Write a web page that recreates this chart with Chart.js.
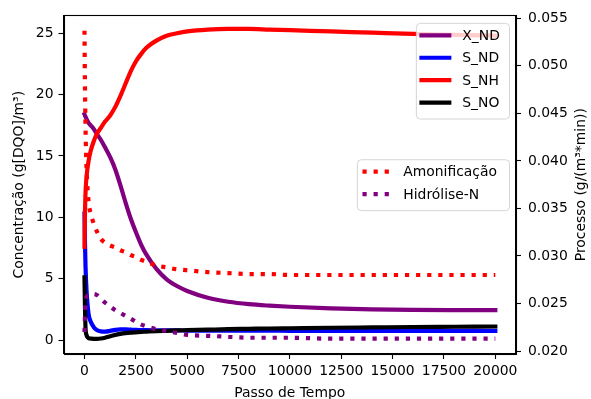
<!DOCTYPE html>
<html><head><meta charset="utf-8">
<script src="https://cdn.jsdelivr.net/npm/chart.js@4.4.0/dist/chart.umd.min.js"></script>
<style>html,body{margin:0;padding:0;background:#fff;overflow:hidden}#wrap{width:591px;height:399px}</style>
</head><body><div id="wrap"><canvas id="c" width="591" height="399"></canvas></div>
<script>
// ---- data ----
const passo = [0, 20, 50, 100, 200, 300, 450, 600, 800, 1000, 1250, 1500, 1750, 2000, 2250, 2500, 2750, 3000, 3500, 4000, 4500, 5000, 6000, 7000, 8000, 9000, 10000, 12000, 14000, 16000, 18000, 20000];
const xND = [18.4,18.3,18.2,18.0,17.7,17.5,17.2,16.8,16.3,15.7,14.9,13.9,12.6,11.2,9.9,8.8,7.8,7.0,5.8,4.95,4.4,4.0,3.45,3.12,2.92,2.8,2.71,2.58,2.5,2.46,2.44,2.43];
const sND = [10.3,8.3,6.0,4.0,2.1,1.5,1.05,0.82,0.7,0.68,0.74,0.83,0.87,0.86,0.84,0.82,0.81,0.8,0.79,0.78,0.78,0.77,0.77,0.76,0.76,0.76,0.75,0.75,0.75,0.75,0.75,0.75];
const sNH = [7.6,10.0,12.0,13.3,14.6,15.4,16.2,16.8,17.3,17.8,18.3,19.0,19.9,20.9,21.9,22.7,23.3,23.8,24.4,24.8,25.0,25.15,25.3,25.35,25.35,25.3,25.25,25.15,25.05,24.95,24.87,24.8];
const sNO = [5.1,3.0,1.0,0.4,0.15,0.12,0.1,0.1,0.12,0.18,0.3,0.42,0.5,0.56,0.6,0.63,0.66,0.68,0.72,0.75,0.78,0.8,0.84,0.88,0.91,0.94,0.96,1.0,1.03,1.06,1.08,1.1];
const amonificacao = [0.0537,0.0485,0.0435,0.0392,0.0357,0.0345,0.0334,0.0326,0.0318,0.0314,0.0311,0.0309,0.0306,0.0304,0.0301,0.0299,0.0296,0.0294,0.0290,0.0288,0.0286,0.0285,0.0283,0.0282,0.0281,0.0281,0.0280,0.0280,0.0280,0.0280,0.0280,0.0280];
const hidroliseN = [0.0220,0.0235,0.0250,0.0257,0.0259,0.0260,0.0260,0.0259,0.0255,0.0251,0.0247,0.0243,0.0240,0.0237,0.0234,0.0231,0.0228,0.0226,0.0223,0.0221,0.0219,0.0217,0.0216,0.0215,0.0214,0.0214,0.0214,0.0213,0.0213,0.0213,0.0213,0.0213];
const xTicks = [0, 2500, 5000, 7500, 10000, 12500, 15000, 17500, 20000];
const yTicks = [0, 5, 10, 15, 20, 25];
const y2Ticks = [0.020, 0.025, 0.030, 0.035, 0.040, 0.045, 0.050, 0.055];
const labelsConc = ['X_ND', 'S_ND', 'S_NH', 'S_NO'];
const labelsProc = ['Amonificação', 'Hidrólise-N'];
const xTitle = 'Passo de Tempo';
const yTitle = 'Concentração (g[DQO]/m³)';
const y2Title = 'Processo (g/(m³*min))';

// ---- styling ----
const FONT = '"DejaVu Sans", sans-serif';
const FS = 13.9;
const LW = 4.2;
const pts = arr => passo.map((x, i) => ({x: x, y: arr[i]}));
const solid = (label, data, color, order) => ({label, data: pts(data), borderColor: color, backgroundColor: color, borderWidth: LW, pointRadius: 0, yAxisID: 'y', order, cubicInterpolationMode: 'monotone', borderCapStyle: 'square', fill: false, isSolid: true});
const dotted = (label, data, color, order) => ({label, data: pts(data), borderColor: color, backgroundColor: color, borderWidth: LW, pointRadius: 0, yAxisID: 'y2', order, cubicInterpolationMode: 'monotone', borderCapStyle: 'butt', borderDash: [LW, 6.9], fill: false, isSolid: false});

const datasets = [
  solid(labelsConc[0], xND, '#800080', 5),
  solid(labelsConc[1], sND, '#0000ff', 4),
  solid(labelsConc[2], sNH, '#ff0000', 3),
  solid(labelsConc[3], sNO, '#000000', 2),
  dotted(labelsProc[0], amonificacao, '#ff0000', 1),
  dotted(labelsProc[1], hidroliseN, '#800080', 0)
];

function setTicks(arr) { return function(scale) { scale.ticks = arr.map(v => ({value: v})); }; }

const framePlugin = {
  id: 'frame',
  afterDraw(chart) {
    const ctx = chart.ctx, a = chart.chartArea;
    ctx.save();
    ctx.strokeStyle = '#000'; ctx.lineWidth = 1.1;
    ctx.strokeRect(Math.round(a.left) + 0.5, Math.round(a.top) + 0.5, Math.round(a.right - a.left) - 1, Math.round(a.bottom - a.top));
    // right axis title (reads bottom to top)
    ctx.font = FS + 'px ' + FONT; ctx.fillStyle = '#000';
    ctx.textAlign = 'center'; ctx.textBaseline = 'middle';
    ctx.translate(581.5, (a.top + a.bottom) / 2);
    ctx.rotate(-Math.PI / 2);
    ctx.fillText(y2Title, 0, 0);
    ctx.restore();
    // legends
    const ds = chart.data.datasets;
    drawLegend(ctx, ds.filter(d => d.isSolid), a.right - 7, a.top + 7.5, null);
    drawLegend(ctx, ds.filter(d => !d.isSolid), a.right - 7, null, (a.top + a.bottom) / 2);
  }
};

function roundRect(ctx, x, y, w, h, r) {
  ctx.beginPath();
  ctx.moveTo(x + r, y); ctx.lineTo(x + w - r, y); ctx.quadraticCurveTo(x + w, y, x + w, y + r);
  ctx.lineTo(x + w, y + h - r); ctx.quadraticCurveTo(x + w, y + h, x + w - r, y + h);
  ctx.lineTo(x + r, y + h); ctx.quadraticCurveTo(x, y + h, x, y + h - r);
  ctx.lineTo(x, y + r); ctx.quadraticCurveTo(x, y, x + r, y); ctx.closePath();
}

function drawLegend(ctx, items, right, top, midY) {
  ctx.save();
  ctx.font = FS + 'px ' + FONT;
  const maxW = Math.max(...items.map(d => ctx.measureText(d.label).width));
  const pitch = 22.4, padTop = 12.5, padBot = 16;
  const h = padTop + pitch * (items.length - 1) + padBot;
  if (top === null) top = midY - h / 2;
  const textX = right - 7.3 - maxW * 1.05;
  const hEnd = textX - 13, hStart = hEnd - 27.8;
  const left = hStart - 5.6;
  roundRect(ctx, left + 0.5, top + 0.5, right - left, h, 4);
  ctx.fillStyle = 'rgba(255,255,255,0.8)'; ctx.fill();
  ctx.strokeStyle = 'rgba(204,204,204,0.8)'; ctx.lineWidth = 1; ctx.stroke();
  items.forEach((d, i) => {
    const y = top + padTop + i * pitch;
    ctx.beginPath();
    ctx.strokeStyle = d.borderColor; ctx.lineWidth = LW;
    if (d.isSolid) { ctx.setLineDash([]); ctx.lineCap = 'square'; }
    else { ctx.setLineDash(d.borderDash); ctx.lineCap = 'butt'; }
    ctx.moveTo(hStart, y); ctx.lineTo(hEnd, y); ctx.stroke();
    ctx.setLineDash([]);
    ctx.fillStyle = '#000'; ctx.textAlign = 'left'; ctx.textBaseline = 'middle';
    ctx.fillText(d.label, textX, y + 1);
  });
  ctx.restore();
}

const tickFont = {family: FONT, size: FS};
new Chart(document.getElementById('c'), {
  type: 'line',
  data: {datasets},
  plugins: [framePlugin],
  options: {
    responsive: false, animation: false, devicePixelRatio: 1,
    layout: {padding: {top: 14, left: 0, right: 0, bottom: 0}},
    plugins: {legend: {display: false}, tooltip: {enabled: false}, title: {display: false}},
    scales: {
      x: {
        type: 'linear', position: 'bottom', min: -1022, max: 21007,
        afterBuildTicks: setTicks(xTicks),
        afterFit(s) { s.height = 45; },
        grid: {drawOnChartArea: false, drawTicks: true, tickLength: 5, tickColor: '#000', tickWidth: 1.1},
        border: {display: true, color: '#000', width: 1.1},
        ticks: {color: '#000', font: tickFont, padding: 4, maxRotation: 0, autoSkip: false, callback: v => String(v)},
        title: {display: true, text: xTitle, color: '#000', font: {family: FONT, size: FS, lineHeight: 1}, padding: {top: 0, bottom: -1.5}}
      },
      y: {
        type: 'linear', position: 'left', min: -1.14, max: 26.46,
        afterBuildTicks: setTicks(yTicks),
        afterFit(s) { s.width = 63.5; },
        grid: {drawOnChartArea: false, drawTicks: true, tickLength: 5, tickColor: '#000', tickWidth: 1.1},
        border: {display: true, color: '#000', width: 1.1},
        ticks: {color: '#000', font: tickFont, padding: 5, autoSkip: false, callback: v => String(v)},
        title: {display: true, text: yTitle, color: '#000', font: {family: FONT, size: FS, lineHeight: 1.2}, padding: {top: 11.5, bottom: 0}}
      },
      y2: {
        type: 'linear', position: 'right', min: 0.01969, max: 0.05531,
        afterBuildTicks: setTicks(y2Ticks),
        afterFit(s) { s.width = 75; },
        grid: {drawOnChartArea: false, drawTicks: true, tickLength: 5, tickColor: '#000', tickWidth: 1.1},
        border: {display: true, color: '#000', width: 1.1},
        ticks: {color: '#000', font: tickFont, padding: 7, autoSkip: false, callback: v => v.toFixed(3)},
        title: {display: false}
      }
    }
  }
});
</script></body></html>
